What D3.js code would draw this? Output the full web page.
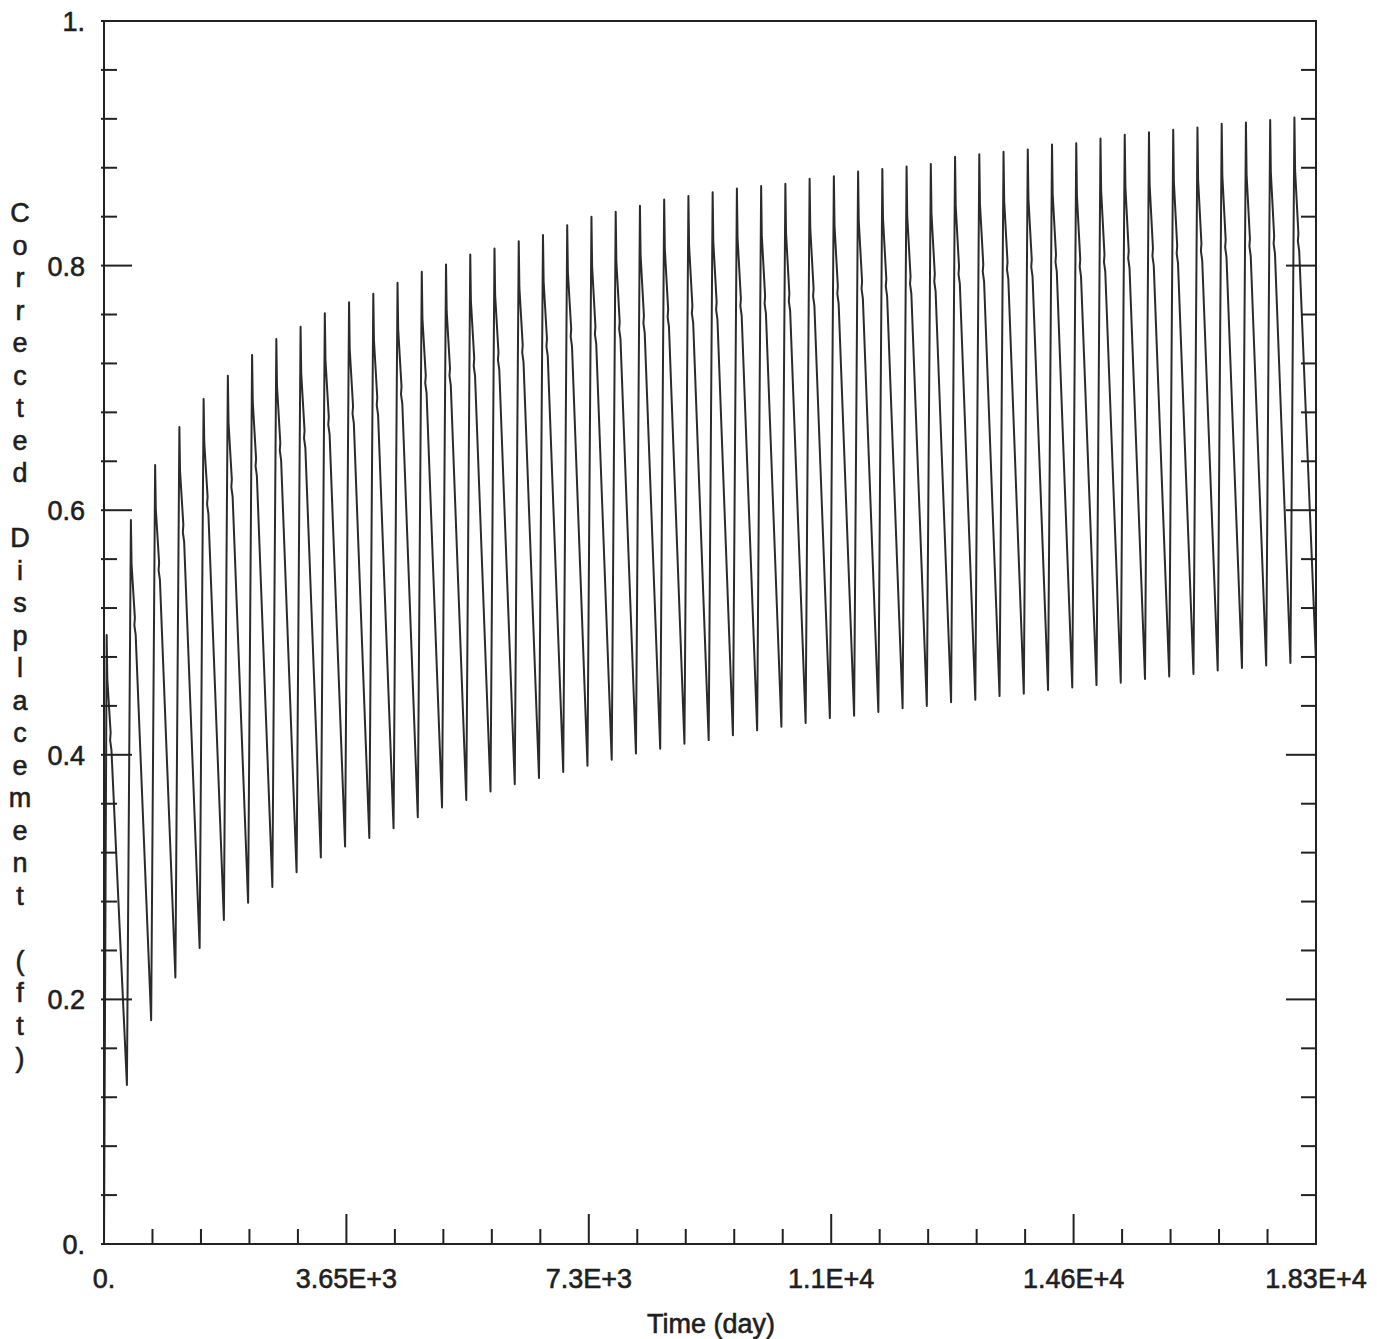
<!DOCTYPE html>
<html>
<head>
<meta charset="utf-8">
<script src="https://cdn.jsdelivr.net/npm/d3@7"></script>
<style>
  html, body { margin: 0; padding: 0; background: #fff; }
  text { font-family: "Liberation Sans", Arial, sans-serif; fill: #1f1f1f; stroke: #1f1f1f; stroke-width: 0.6px; }
</style>
</head>
<body>
<div id="main"></div>
<script>
// one sawtooth per year (365 days), 50 years
const daysPerCycle = 365;
const peaks = [0.498, 0.592, 0.637, 0.668, 0.691, 0.710, 0.727, 0.740, 0.750, 0.761,
    0.770, 0.777, 0.786, 0.795, 0.801, 0.809, 0.814, 0.820, 0.825, 0.833,
    0.840, 0.844, 0.849, 0.854, 0.857, 0.860, 0.863, 0.865, 0.867, 0.871,
    0.873, 0.877, 0.879, 0.881, 0.883, 0.889, 0.891, 0.893, 0.895, 0.899,
    0.900, 0.904, 0.907, 0.909, 0.911, 0.913, 0.916, 0.917, 0.919, 0.921];
const shoulders = [0.418, 0.512, 0.557, 0.588, 0.611, 0.625, 0.642, 0.655, 0.665, 0.676,
    0.685, 0.692, 0.701, 0.710, 0.716, 0.724, 0.729, 0.735, 0.740, 0.748,
    0.750, 0.754, 0.759, 0.764, 0.767, 0.770, 0.773, 0.775, 0.777, 0.781,
    0.783, 0.787, 0.789, 0.791, 0.793, 0.799, 0.801, 0.803, 0.805, 0.809,
    0.805, 0.809, 0.812, 0.814, 0.816, 0.818, 0.821, 0.822, 0.824, 0.826];
const troughs = [0.130, 0.183, 0.218, 0.242, 0.265, 0.279, 0.292, 0.304, 0.316, 0.325,
    0.332, 0.340, 0.349, 0.357, 0.363, 0.370, 0.376, 0.381, 0.386, 0.391,
    0.396, 0.401, 0.405, 0.409, 0.412, 0.416, 0.420, 0.423, 0.426, 0.430,
    0.432, 0.435, 0.438, 0.440, 0.443, 0.445, 0.448, 0.450, 0.453, 0.455,
    0.457, 0.459, 0.462, 0.464, 0.466, 0.469, 0.471, 0.473, 0.475, 0.477];
// day offsets inside a cycle: peak, knee, shoulder, hook, trough
const peakDay = 40, kneeDay = 50, shoulderDay = 100, hookDay = 92, troughDay = 345;

const xTickValues = [0, 3650, 7300, 10950, 14600, 18250];
const xTickLabels = ["0.", "3.65E+3", "7.3E+3", "1.1E+4", "1.46E+4", "1.83E+4"];
const yTickValues = [0, 0.2, 0.4, 0.6, 0.8, 1];
const yTickLabels = ["0.", "0.2", "0.4", "0.6", "0.8", "1."];
const yTitle = "Corrected Displacement (ft)";
const xTitle = "Time (day)";

const W = 1377, H = 1339;
const plot = {left: 104, right: 1316, top: 21, bottom: 1244};

const x = d3.scaleLinear().domain([0, 18250]).range([plot.left, plot.right]);
const y = d3.scaleLinear().domain([0, 1]).range([plot.bottom, plot.top]);

// build the polyline: start at 0, then peak -> knee -> shoulder (small hook) -> trough each year
const points = [[0, 0]];
peaks.forEach((p, k) => {
    const t0 = k * daysPerCycle;
    const s = shoulders[k];
    points.push([t0 + peakDay, p]);
    points.push([t0 + kneeDay, p - (p - s) * 0.45]);
    points.push([t0 + shoulderDay, s]);
    points.push([t0 + hookDay, s - 0.006]);
    points.push([t0 + shoulderDay + 12, s - 0.014]);
    points.push([k === peaks.length - 1 ? 18250 : t0 + troughDay, troughs[k]]);
});

const svg = d3.select("#main").append("svg")
    .attr("width", W).attr("height", H)
    .attr("viewBox", [0, 0, W, H].join(" "));

svg.append("rect").attr("width", W).attr("height", H).attr("fill", "#fff");

// data line
const line = d3.line().x(d => x(d[0])).y(d => y(d[1]));
svg.append("path")
    .datum(points)
    .attr("d", line)
    .attr("fill", "none")
    .attr("stroke", "#2b2b2b")
    .attr("stroke-width", 2)
    .attr("stroke-linejoin", "round");

// frame
svg.append("rect")
    .attr("x", plot.left).attr("y", plot.top)
    .attr("width", plot.right - plot.left).attr("height", plot.bottom - plot.top)
    .attr("fill", "none").attr("stroke", "#222").attr("stroke-width", 2);

// ticks: majors every 3650 / 0.2, minors every 730 / 0.04
const xMinor = d3.range(0, 18250 + 1, 730);
const yMinor = d3.range(0, 26).map(i => i * 0.04);
const isMajorX = v => xTickValues.some(m => Math.abs(m - v) < 1);
const isMajorY = v => yTickValues.some(m => Math.abs(m - v) < 1e-6);

const ticks = svg.append("g").attr("stroke", "#222").attr("stroke-width", 2);

// bottom axis ticks point up
ticks.selectAll(".xt").data(xMinor).enter().append("line")
    .attr("x1", d => x(d)).attr("x2", d => x(d))
    .attr("y1", plot.bottom).attr("y2", d => plot.bottom - (isMajorX(d) ? 30 : 15));

// left and right axis ticks point inward
ticks.selectAll(".yl").data(yMinor).enter().append("line")
    .attr("x1", plot.left - 3).attr("x2", d => plot.left + (isMajorY(d) ? 28 : 13))
    .attr("y1", d => y(d)).attr("y2", d => y(d));
ticks.selectAll(".yr").data(yMinor).enter().append("line")
    .attr("x1", plot.right).attr("x2", d => plot.right - (isMajorY(d) ? 30 : 15))
    .attr("y1", d => y(d)).attr("y2", d => y(d));

// tick labels
svg.append("g").selectAll("text").data(xTickValues).enter().append("text")
    .attr("x", d => x(d)).attr("y", plot.bottom + 44)
    .attr("text-anchor", "middle")
    .attr("font-size", 27)
    .text((d, i) => xTickLabels[i]);

svg.append("g").selectAll("text").data(yTickValues).enter().append("text")
    .attr("x", 85).attr("y", d => y(d) + 10)
    .attr("text-anchor", "end")
    .attr("font-size", 27)
    .text((d, i) => yTickLabels[i]);

// axis titles
svg.append("text")
    .attr("x", 711).attr("y", 1333)
    .attr("text-anchor", "middle")
    .attr("font-size", 27)
    .text(xTitle);

// y title is drawn as a column of stacked letters
const yt = svg.append("text")
    .attr("x", 20).attr("y", 222)
    .attr("text-anchor", "middle")
    .attr("font-size", 27);
yt.selectAll("tspan").data(yTitle.split("")).enter().append("tspan")
    .attr("x", 20)
    .attr("dy", (d, i) => i === 0 ? 0 : 32.5)
    .text(d => d === " " ? "\u00a0" : d);
</script>
</body>
</html>
